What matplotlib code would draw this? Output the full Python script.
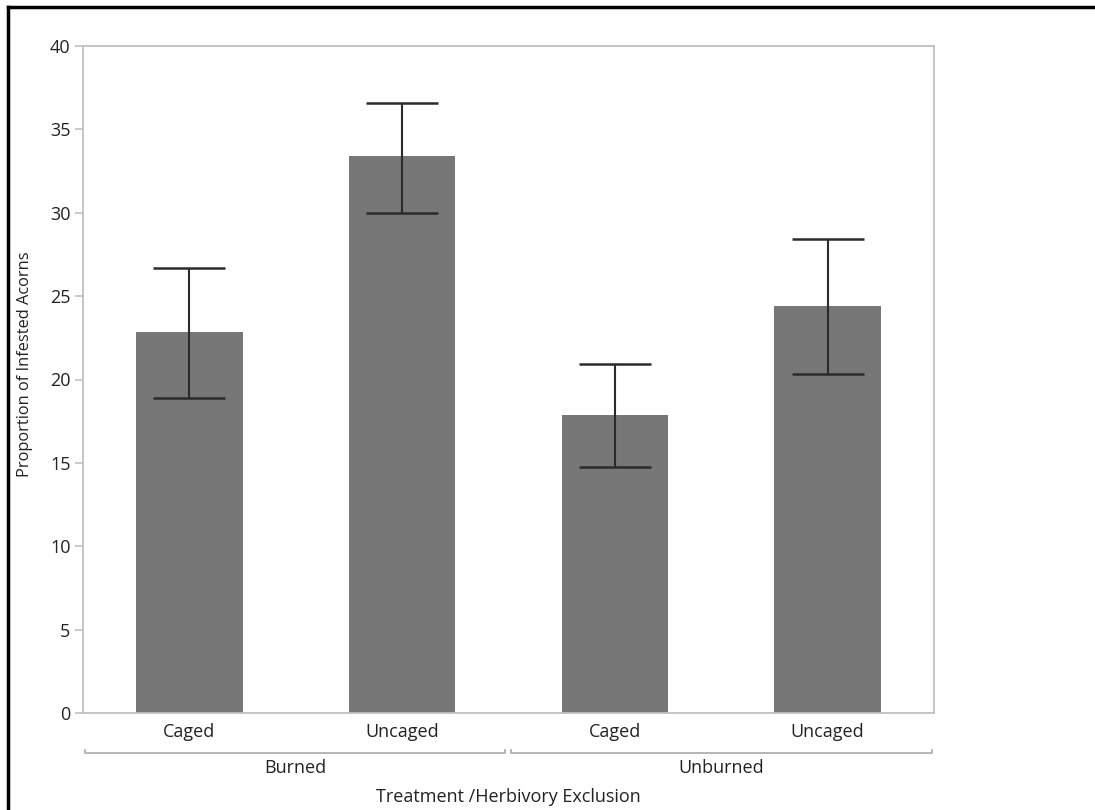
"""Bar chart of infested acorns by treatment and herbivory exclusion
"""

import matplotlib
matplotlib.use('Agg')
import matplotlib.pyplot as plt
from matplotlib.lines import Line2D
import numpy as np

plt.rcParams['font.family'] = ['Open Sans', 'DejaVu Sans']

groups = ['Burned', 'Unburned']
cages = ['Caged', 'Uncaged', 'Caged', 'Uncaged']
means = [22.85, 33.4, 17.9, 24.4]
err_low = [18.9, 30.0, 14.75, 20.3]
err_high = [26.7, 36.6, 20.9, 28.4]

W, H = 1095, 810
ax_l, ax_r, ax_t, ax_b = 83, 934, 46, 713
fig = plt.figure(figsize=(W / 100, H / 100), dpi=100)
ax = fig.add_axes([ax_l / W, 1 - ax_b / H, (ax_r - ax_l) / W, (ax_b - ax_t) / H])
ax_h = ax_b - ax_t

x = np.arange(len(means))
means_arr = np.array(means)
yerr = [means_arr - np.array(err_low), np.array(err_high) - means_arr]

ax.bar(x, means, width=0.5, color='#777777', zorder=2)
ax.errorbar(x, means, yerr=yerr, fmt='none', ecolor='#2b2b2b',
            elinewidth=1.5, capsize=26, capthick=1.8, zorder=3)

ax.set_xlim(-0.5, 3.5)
ax.set_ylim(0, 40)
ax.set_yticks(np.arange(0, 41, 5))
ax.set_xticks(x)
ax.set_xticklabels(cages)

for s in ax.spines.values():
    s.set_color('#c0c0c0')
    s.set_linewidth(1.3)

ax.tick_params(axis='y', colors='#c0c0c0', labelcolor='#222222',
               length=6, width=1.2, labelsize=13, pad=3)
ax.tick_params(axis='x', length=0, labelsize=13, labelcolor='#222222', pad=7)

# group brackets under the category labels
trans = ax.get_xaxis_transform()
y_br = -(753 - ax_b) / ax_h
tick_h = 3 / ax_h
for gx0, gx1 in [(-0.49, 1.485), (1.51, 3.49)]:
    ax.add_line(Line2D([gx0, gx0, gx1, gx1],
                       [y_br + tick_h, y_br, y_br, y_br + tick_h],
                       transform=trans, color='#b0b0b0', lw=1.3,
                       clip_on=False))
for i, g in enumerate(groups):
    ax.text(0.5 + 2 * i, -(768 - ax_b) / ax_h, g, transform=trans,
            ha='center', va='center', fontsize=13, color='#222222')

ax.text(1.5, -(797 - ax_b) / ax_h, 'Treatment /Herbivory Exclusion',
        transform=trans, ha='center', va='center', fontsize=13,
        color='#222222')
fig.text(25 / W, 1 - 364 / H, 'Proportion of Infested Acorns',
         rotation=90, ha='center', va='center', fontsize=11.8,
         color='#222222')

# outer frame (partially cropped in the reference)
fig.add_artist(Line2D([8 / W, 8 / W], [0, 1 - 7 / H], transform=fig.transFigure,
                      color='black', lw=2.5))
fig.add_artist(Line2D([8 / W, 1], [1 - 7 / H, 1 - 7 / H], transform=fig.transFigure,
                      color='black', lw=2.5))

fig.savefig('out.png', dpi=100)
